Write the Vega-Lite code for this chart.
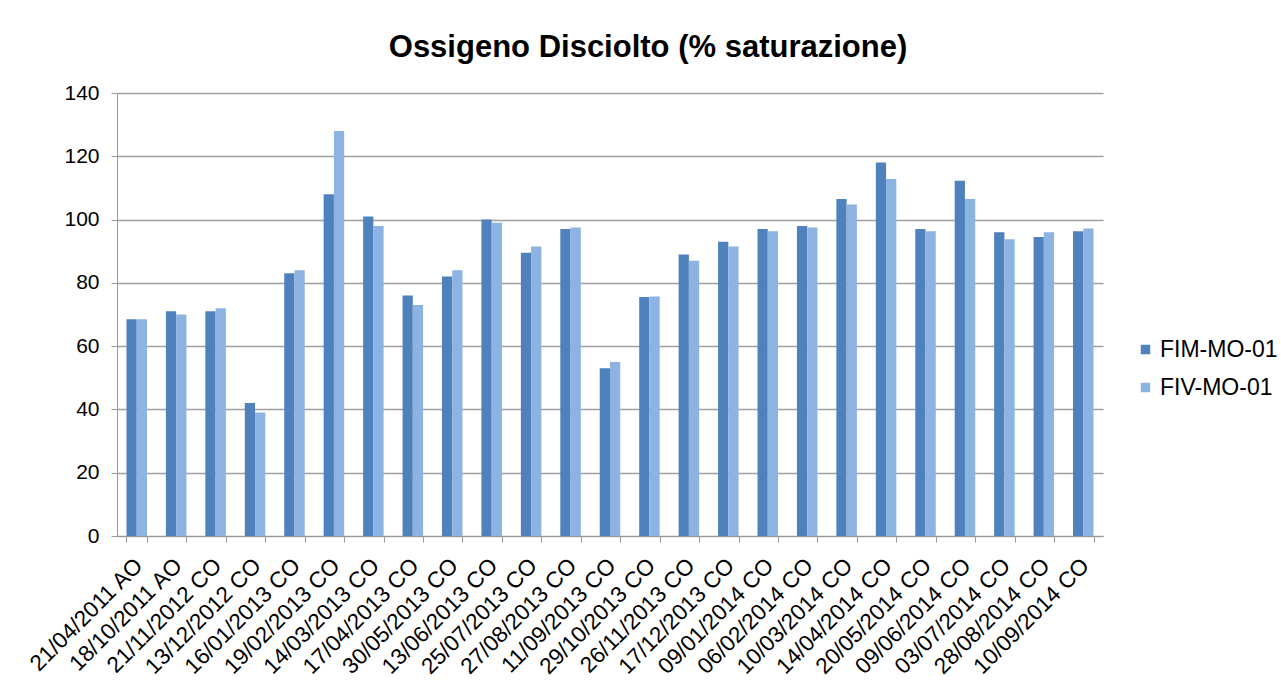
{
  "$schema": "https://vega.github.io/schema/vega-lite/v6.json",
  "width": 986,
  "height": 443,
  "autosize": "none",
  "padding": {"left": 117, "top": 93, "right": 178, "bottom": 150},
  "background": "white",
  "title": {
    "text": "Ossigeno Disciolto (% saturazione)",
    "font": "Liberation Sans",
    "fontSize": 31,
    "fontWeight": "bold",
    "color": "#000000",
    "anchor": "middle",
    "dx": 38,
    "offset": 18
  },
  "data": {
    "values": [
      {"data": "21/04/2011 AO", "stazione": "FIM-MO-01", "valore": 68.5},
      {"data": "21/04/2011 AO", "stazione": "FIV-MO-01", "valore": 68.5},
      {"data": "18/10/2011 AO", "stazione": "FIM-MO-01", "valore": 71},
      {"data": "18/10/2011 AO", "stazione": "FIV-MO-01", "valore": 70},
      {"data": "21/11/2012 CO", "stazione": "FIM-MO-01", "valore": 71},
      {"data": "21/11/2012 CO", "stazione": "FIV-MO-01", "valore": 72},
      {"data": "13/12/2012 CO", "stazione": "FIM-MO-01", "valore": 42},
      {"data": "13/12/2012 CO", "stazione": "FIV-MO-01", "valore": 39},
      {"data": "16/01/2013 CO", "stazione": "FIM-MO-01", "valore": 83},
      {"data": "16/01/2013 CO", "stazione": "FIV-MO-01", "valore": 84},
      {"data": "19/02/2013 CO", "stazione": "FIM-MO-01", "valore": 108},
      {"data": "19/02/2013 CO", "stazione": "FIV-MO-01", "valore": 128},
      {"data": "14/03/2013 CO", "stazione": "FIM-MO-01", "valore": 101},
      {"data": "14/03/2013 CO", "stazione": "FIV-MO-01", "valore": 98},
      {"data": "17/04/2013 CO", "stazione": "FIM-MO-01", "valore": 76},
      {"data": "17/04/2013 CO", "stazione": "FIV-MO-01", "valore": 73},
      {"data": "30/05/2013 CO", "stazione": "FIM-MO-01", "valore": 82},
      {"data": "30/05/2013 CO", "stazione": "FIV-MO-01", "valore": 84},
      {"data": "13/06/2013 CO", "stazione": "FIM-MO-01", "valore": 100},
      {"data": "13/06/2013 CO", "stazione": "FIV-MO-01", "valore": 99},
      {"data": "25/07/2013 CO", "stazione": "FIM-MO-01", "valore": 89.5},
      {"data": "25/07/2013 CO", "stazione": "FIV-MO-01", "valore": 91.5},
      {"data": "27/08/2013 CO", "stazione": "FIM-MO-01", "valore": 97},
      {"data": "27/08/2013 CO", "stazione": "FIV-MO-01", "valore": 97.5},
      {"data": "11/09/2013 CO", "stazione": "FIM-MO-01", "valore": 53},
      {"data": "11/09/2013 CO", "stazione": "FIV-MO-01", "valore": 55},
      {"data": "29/10/2013 CO", "stazione": "FIM-MO-01", "valore": 75.5},
      {"data": "29/10/2013 CO", "stazione": "FIV-MO-01", "valore": 75.7},
      {"data": "26/11/2013 CO", "stazione": "FIM-MO-01", "valore": 89},
      {"data": "26/11/2013 CO", "stazione": "FIV-MO-01", "valore": 87},
      {"data": "17/12/2013 CO", "stazione": "FIM-MO-01", "valore": 93},
      {"data": "17/12/2013 CO", "stazione": "FIV-MO-01", "valore": 91.5},
      {"data": "09/01/2014 CO", "stazione": "FIM-MO-01", "valore": 97},
      {"data": "09/01/2014 CO", "stazione": "FIV-MO-01", "valore": 96.3},
      {"data": "06/02/2014 CO", "stazione": "FIM-MO-01", "valore": 98},
      {"data": "06/02/2014 CO", "stazione": "FIV-MO-01", "valore": 97.5},
      {"data": "10/03/2014 CO", "stazione": "FIM-MO-01", "valore": 106.5},
      {"data": "10/03/2014 CO", "stazione": "FIV-MO-01", "valore": 104.8},
      {"data": "14/04/2014 CO", "stazione": "FIM-MO-01", "valore": 118},
      {"data": "14/04/2014 CO", "stazione": "FIV-MO-01", "valore": 112.8},
      {"data": "20/05/2014 CO", "stazione": "FIM-MO-01", "valore": 97},
      {"data": "20/05/2014 CO", "stazione": "FIV-MO-01", "valore": 96.3},
      {"data": "09/06/2014 CO", "stazione": "FIM-MO-01", "valore": 112.3},
      {"data": "09/06/2014 CO", "stazione": "FIV-MO-01", "valore": 106.5},
      {"data": "03/07/2014 CO", "stazione": "FIM-MO-01", "valore": 96},
      {"data": "03/07/2014 CO", "stazione": "FIV-MO-01", "valore": 93.8},
      {"data": "28/08/2014 CO", "stazione": "FIM-MO-01", "valore": 94.5},
      {"data": "28/08/2014 CO", "stazione": "FIV-MO-01", "valore": 96},
      {"data": "10/09/2014 CO", "stazione": "FIM-MO-01", "valore": 96.3},
      {"data": "10/09/2014 CO", "stazione": "FIV-MO-01", "valore": 97.2}
    ]
  },
  "mark": {"type": "bar"},
  "encoding": {
    "x": {
      "field": "data",
      "type": "nominal",
      "sort": null,
      "scale": {"paddingInner": 0.48, "paddingOuter": 0.24},
      "axis": {
        "title": null,
        "labelAngle": -45,
        "labelFont": "Liberation Sans",
        "labelFontSize": 22.5,
        "labelColor": "#000000",
        "labelPadding": 12,
        "labelOffset": -6,
        "tickBand": "extent",
        "tickSize": 6,
        "tickColor": "#999999",
        "domainColor": "#999999",
        "grid": false
      }
    },
    "xOffset": {"field": "stazione", "type": "nominal"},
    "y": {
      "field": "valore",
      "type": "quantitative",
      "scale": {"domain": [0, 140]},
      "axis": {
        "title": null,
        "values": [0, 20, 40, 60, 80, 100, 120, 140],
        "labelFont": "Liberation Sans",
        "labelFontSize": 21,
        "labelColor": "#000000",
        "labelPadding": 12,
        "ticks": true,
        "tickSize": 6,
        "tickColor": "#999999",
        "domainColor": "#999999",
        "gridColor": "#a0a0a0",
        "gridWidth": 1.3
      }
    },
    "color": {
      "field": "stazione",
      "type": "nominal",
      "scale": {"domain": ["FIM-MO-01", "FIV-MO-01"], "range": ["#4F81BD", "#8DB3E2"]},
      "legend": {
        "title": null,
        "orient": "none",
        "legendX": 1017,
        "legendY": 245,
        "symbolType": "square",
        "symbolSize": 90,
        "symbolStrokeWidth": 0,
        "labelFont": "Liberation Sans",
        "labelFontSize": 23,
        "labelColor": "#000000",
        "rowPadding": 14,
        "labelOffset": 3
      }
    }
  },
  "config": {
    "view": {"stroke": null}
  }
}
